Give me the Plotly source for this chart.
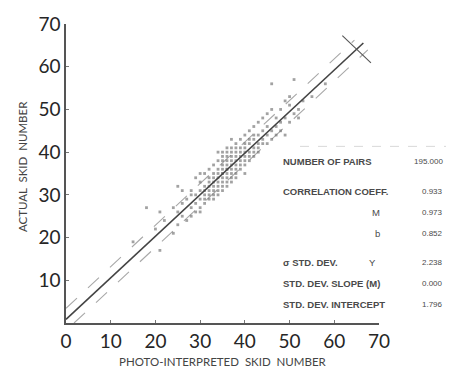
import plotly.graph_objects as go

# ---------------- data ----------------
x_vals = [15, 18, 20, 21, 21, 22, 24, 24, 25, 25, 25, 26, 26, 26, 27, 27,
          28, 28, 28, 28, 29, 29, 29, 29,
          30, 30, 30, 30, 30, 30, 31, 31, 31, 31, 31, 31,
          32, 32, 32, 32, 32, 32, 32, 33, 33, 33, 33, 33, 33, 33, 33,
          34, 34, 34, 34, 34, 34, 34, 34, 34,
          35, 35, 35, 35, 35, 35, 35, 35, 35, 35, 35,
          36, 36, 36, 36, 36, 36, 36, 36, 36, 36, 36,
          37, 37, 37, 37, 37, 37, 37, 37, 37, 37,
          38, 38, 38, 38, 38, 38, 38, 38, 38,
          39, 39, 39, 39, 39, 39, 39,
          40, 40, 40, 40, 40, 40, 40, 40,
          41, 41, 41, 41, 41, 41, 42, 42, 42, 42, 42, 42,
          43, 43, 43, 43, 43, 44, 44, 44, 44, 45, 45, 45, 45,
          46, 46, 46, 46, 47, 47, 47, 48, 48, 48, 49, 49, 49,
          50, 50, 50, 51, 51, 52, 52, 53, 55, 58]
y_vals = [19, 27, 22, 17, 26, 24, 27, 21, 23, 32, 26, 31, 25, 28, 29, 24,
          27, 31, 25, 30, 28, 34, 26, 30,
          29, 33, 27, 31, 35, 26, 30, 32, 28, 35, 31, 29,
          31, 33, 30, 36, 29, 34, 32, 32, 34, 31, 37, 30, 33, 35, 29,
          33, 35, 32, 38, 31, 34, 36, 30, 40,
          34, 36, 33, 35, 37, 38, 32, 39, 31, 40, 35,
          35, 37, 34, 36, 38, 33, 39, 32, 40, 41, 36,
          36, 38, 35, 37, 39, 34, 40, 33, 41, 43,
          37, 39, 36, 38, 40, 35, 41, 34, 42,
          38, 40, 37, 41, 36, 39, 43,
          39, 41, 38, 42, 37, 40, 44, 35,
          40, 42, 39, 43, 38, 45, 41, 43, 40, 44, 39, 46,
          42, 44, 41, 47, 40, 43, 45, 42, 48, 44, 46, 49, 42,
          45, 50, 43, 56, 46, 48, 44, 47, 50, 45, 44, 48, 52,
          47, 53, 51, 57, 49, 48, 50, 52, 53, 56]

slope_m = 0.973
intercept_b = 0.852
band = 2.6          # vertical offset of the dashed lines
line_x_end = 66.5

x_ticks = [0, 10, 20, 30, 40, 50, 60, 70]
y_ticks = [10, 20, 30, 40, 50, 60, 70]

table_labels = ["NUMBER OF PAIRS", "CORRELATION COEFF.", "M", "b",
                "\u03c3 STD. DEV.", "STD. DEV. SLOPE (M)", "STD. DEV. INTERCEPT"]
table_sub = ["", "", "", "", "Y", "", ""]
table_values = ["195.000", "0.933", "0.973", "0.852", "2.238", "0.000", "1.796"]

# ---------------- layout geometry (pixels) ----------------
W, H = 453, 376
L, R, T, B = 66, 379, 20, 323


def px(X):
    return (X - L) / (R - L)


def py(Y):
    return (B - Y) / (B - T)


fig = go.Figure()

# dashed confidence lines
xs = [0, line_x_end - 2]
fig.add_trace(go.Scatter(x=xs, y=[slope_m * v + intercept_b + band for v in xs],
                         mode="lines", line=dict(color="#a8a8a8", width=1.1, dash="longdash"),
                         hoverinfo="skip"))
x0_low = (band - intercept_b) / slope_m
xs2 = [x0_low, line_x_end + 1]
fig.add_trace(go.Scatter(x=xs2, y=[slope_m * v + intercept_b - band for v in xs2],
                         mode="lines", line=dict(color="#a8a8a8", width=1.1, dash="longdash"),
                         hoverinfo="skip"))

# scatter points
fig.add_trace(go.Scatter(x=x_vals, y=y_vals, mode="markers",
                         marker=dict(size=2.8, color="#707070", opacity=0.65,
                                     symbol="square"),
                         hoverinfo="skip"))

# regression line
xr = [0, line_x_end]
fig.add_trace(go.Scatter(x=xr, y=[slope_m * v + intercept_b for v in xr],
                         mode="lines", line=dict(color="#444444", width=1.6),
                         hoverinfo="skip"))

# end cross (perpendicular tick near the end of the regression line)
xc = line_x_end - 1.5
yc = slope_m * xc + intercept_b
d = 3.2
fig.add_trace(go.Scatter(x=[xc - d, xc + d], y=[yc + d, yc - d],
                         mode="lines", line=dict(color="#555555", width=1.1),
                         hoverinfo="skip"))

# ---------------- annotations ----------------
ann = []
ann.append(dict(x=0.5, y=py(362), xref="paper", yref="paper",
                text="PHOTO-INTERPRETED  SKID  NUMBER", showarrow=False,
                font=dict(family="Lato, DejaVu Sans", size=11.5, color="#444"),
                xanchor="center", yanchor="middle"))
ann.append(dict(x=px(22), y=py(165), xref="paper", yref="paper",
                text="ACTUAL  SKID  NUMBER", showarrow=False, textangle=-90,
                font=dict(family="Lato, DejaVu Sans", size=11.5, color="#444"),
                xanchor="center", yanchor="middle"))

rows_y = [159, 190, 211, 232, 262, 283, 304]
label_font = dict(family="Liberation Sans, Arial", size=9.5, color="#4a4a4a")
for i, lab in enumerate(table_labels):
    if lab in ("M", "b"):
        ann.append(dict(x=px(382), y=py(rows_y[i]), xref="paper", yref="paper",
                        text=lab, showarrow=False, font=label_font,
                        xanchor="right", yanchor="middle"))
    else:
        ann.append(dict(x=px(281), y=py(rows_y[i]), xref="paper", yref="paper",
                        text="<b>" + lab + "</b>", showarrow=False, font=label_font,
                        xanchor="left", yanchor="middle"))
    if table_sub[i]:
        ann.append(dict(x=px(378), y=py(rows_y[i]), xref="paper", yref="paper",
                        text=table_sub[i], showarrow=False, font=label_font,
                        xanchor="right", yanchor="middle"))
    ann.append(dict(x=px(445), y=py(rows_y[i]), xref="paper", yref="paper",
                    text=table_values[i], showarrow=False,
                    font=dict(family="Liberation Sans, Arial", size=8, color="#4a4a4a"),
                    xanchor="right", yanchor="middle"))

shapes = [dict(type="line", xref="paper", yref="paper",
               x0=px(300), x1=px(446), y0=py(144), y1=py(144),
               line=dict(color="#d8d8d8", width=1, dash="dash"))]

tick_font = dict(family="Lato, DejaVu Sans", size=19, color="#262626")
fig.update_layout(
    width=W, height=H,
    margin=dict(l=L, r=W - R, t=T, b=H - B, pad=0),
    paper_bgcolor="white", plot_bgcolor="white",
    showlegend=False,
    annotations=ann,
    shapes=shapes,
    xaxis=dict(range=[0, 70], tickvals=x_ticks, ticktext=[str(v) for v in x_ticks],
               showgrid=False, zeroline=False, showline=True,
               linecolor="#555", linewidth=1.5, ticks="inside", ticklen=3,
               tickcolor="#777", tickfont=tick_font),
    yaxis=dict(range=[0, 70], tickvals=y_ticks, ticktext=[str(v) for v in y_ticks],
               showgrid=False, zeroline=False, showline=True,
               linecolor="#555", linewidth=1.5, ticks="inside", ticklen=3,
               tickcolor="#777", tickfont=tick_font),
)

fig.write_html("out.html")
